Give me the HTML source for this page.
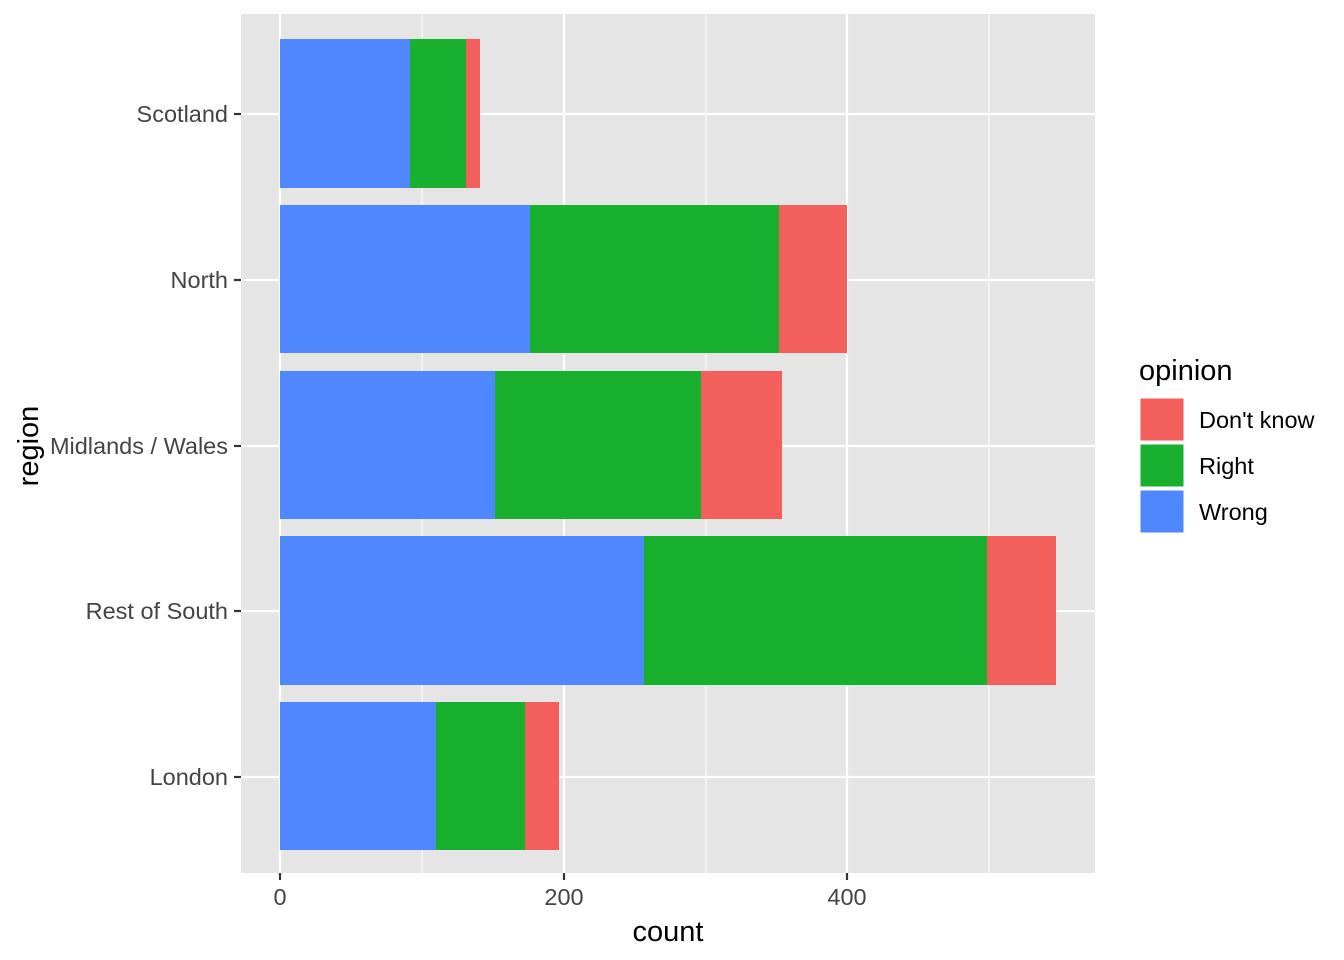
<!DOCTYPE html>
<html><head><meta charset="utf-8"><style>body{margin:0;background:#fff}svg{display:block}text{font-family:"Liberation Sans",Arial,sans-serif}</style></head><body>
<svg width="1344" height="960" xmlns="http://www.w3.org/2000/svg">
<rect x="241" y="14" width="854" height="859" fill="#E5E5E5"/>
<g stroke="#fff" stroke-width="1.1">
<line x1="422" y1="14" x2="422" y2="873"/><line x1="706" y1="14" x2="706" y2="873"/><line x1="989" y1="14" x2="989" y2="873"/>
</g>
<g stroke="#fff" stroke-width="2.2">
<line x1="280" y1="14" x2="280" y2="873"/><line x1="564" y1="14" x2="564" y2="873"/><line x1="847" y1="14" x2="847" y2="873"/>
<line x1="241" y1="114" x2="1095" y2="114"/><line x1="241" y1="280" x2="1095" y2="280"/><line x1="241" y1="446" x2="1095" y2="446"/><line x1="241" y1="611" x2="1095" y2="611"/><line x1="241" y1="777" x2="1095" y2="777"/>
</g>
<g>
<rect x="280" y="39" width="130" height="149" fill="#4F87FF"/><rect x="410" y="39" width="56" height="149" fill="#1AB02F"/><rect x="466" y="39" width="14" height="149" fill="#F35F5A"/>
<rect x="280" y="205" width="250" height="148" fill="#4F87FF"/><rect x="530" y="205" width="249" height="148" fill="#1AB02F"/><rect x="779" y="205" width="68" height="148" fill="#F35F5A"/>
<rect x="280" y="371" width="215" height="148" fill="#4F87FF"/><rect x="495" y="371" width="206" height="148" fill="#1AB02F"/><rect x="701" y="371" width="81" height="148" fill="#F35F5A"/>
<rect x="280" y="536" width="364" height="149" fill="#4F87FF"/><rect x="644" y="536" width="343" height="149" fill="#1AB02F"/><rect x="987" y="536" width="69" height="149" fill="#F35F5A"/>
<rect x="280" y="702" width="156" height="148" fill="#4F87FF"/><rect x="436" y="702" width="89" height="148" fill="#1AB02F"/><rect x="525" y="702" width="34" height="148" fill="#F35F5A"/>
</g>
<g stroke="#333" stroke-width="2.2">
<line x1="234" y1="114" x2="241" y2="114"/><line x1="234" y1="280" x2="241" y2="280"/><line x1="234" y1="446" x2="241" y2="446"/><line x1="234" y1="611" x2="241" y2="611"/><line x1="234" y1="777" x2="241" y2="777"/>
<line x1="280" y1="873" x2="280" y2="880"/><line x1="564" y1="873" x2="564" y2="880"/><line x1="847" y1="873" x2="847" y2="880"/>
</g>
<g font-size="23.5" fill="#444" text-anchor="end">
<text x="228" y="122">Scotland</text><text x="228" y="288">North</text><text x="228" y="454">Midlands / Wales</text><text x="228" y="619">Rest of South</text><text x="228" y="785">London</text>
</g>
<g font-size="23.5" fill="#444" text-anchor="middle">
<text x="280" y="905">0</text><text x="564" y="905">200</text><text x="847" y="905">400</text>
</g>
<text x="668" y="941" font-size="29" text-anchor="middle">count</text>
<text transform="translate(38,446) rotate(-90)" font-size="29" text-anchor="middle">region</text>
<text x="1139" y="380" font-size="29">opinion</text>
<rect x="1140" y="398" width="44" height="43" fill="#F35F5A" stroke="#fff" stroke-width="1"/>
<rect x="1140" y="444" width="44" height="43" fill="#1AB02F" stroke="#fff" stroke-width="1"/>
<rect x="1140" y="490" width="44" height="43" fill="#4F87FF" stroke="#fff" stroke-width="1"/>
<g font-size="23.5" fill="#000">
<text x="1199" y="428">Don't know</text><text x="1199" y="474">Right</text><text x="1199" y="520">Wrong</text>
</g>
</svg>
</body></html>
